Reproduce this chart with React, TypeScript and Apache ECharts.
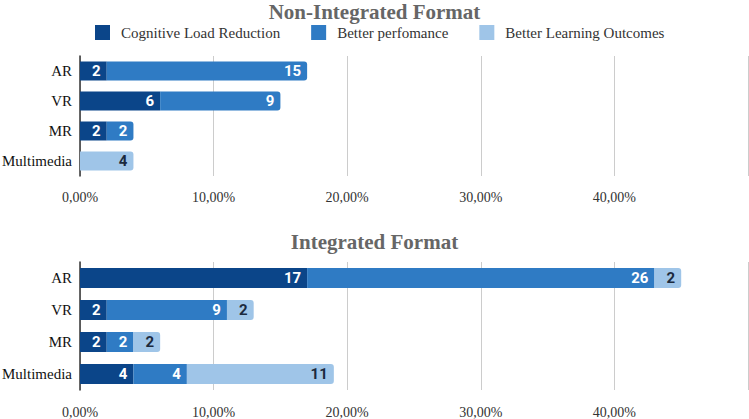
import React, { useEffect, useRef } from "react";
import * as echarts from "echarts";

const categories = ["AR", "VR", "MR", "Multimedia"];
const seriesNames = ["Cognitive Load Reduction", "Better perfomance", "Better Learning Outcomes"];
const colors = ["#0b4589", "#2f7bc4", "#9fc5e8"];
const labelColors = ["#ffffff", "#ffffff", "#1b2a3e"];

// Non-Integrated Format (counts, plotted as %)
const nonIntCLR = [2, 6, 2, 0];
const nonIntBP = [15, 9, 2, 0];
const nonIntBLO = [0, 0, 0, 4];

// Integrated Format
const intCLR = [17, 2, 2, 4];
const intBP = [26, 9, 2, 4];
const intBLO = [2, 2, 2, 11];

const xTicks = [0, 10, 20, 30, 40, 50];

const serif = "'Liberation Serif', 'DejaVu Serif', serif";

function buildSeries(groups: number[][], axisIndex: number) {
  return groups.map((vals, si) => ({
    name: seriesNames[si],
    type: "bar",
    stack: "s" + axisIndex,
    xAxisIndex: axisIndex,
    yAxisIndex: axisIndex,
    barWidth: axisIndex === 0 ? 19 : 20,
    color: colors[si],
    itemStyle: { color: colors[si] },
    label: {
      show: true,
      position: "insideRight",
      distance: 6,
      color: labelColors[si],
      fontFamily: "Roboto",
      fontWeight: "bold",
      fontSize: 15,
      formatter: (p: any) => (p.value > 0 ? String(p.value) : ""),
    },
    data: vals.map((v, ci) => {
      let last = -1;
      groups.forEach((g, k) => {
        if (g[ci] > 0) last = k;
      });
      return {
        value: v,
        itemStyle: { borderRadius: last === si ? [0, 3, 3, 0] : 0 },
      };
    }),
  }));
}

export default function App() {
  const ref = useRef<HTMLDivElement>(null);
  useEffect(() => {
    const chart = echarts.init(ref.current!, undefined, { renderer: "svg" });
    const xAxisCommon = {
      type: "value",
      min: xTicks[0],
      max: xTicks[xTicks.length - 1],
      interval: 10,
      axisLine: { show: false },
      axisTick: { show: false },
      splitLine: { lineStyle: { color: "#cccccc", width: 1 } },
      axisLabel: {
        showMaxLabel: false,
        color: "#333",
        fontFamily: serif,
        fontSize: 14,
        formatter: (v: number) => v.toFixed(2).replace(".", ",") + "%",
      },
    };
    const yAxisCommon = {
      type: "category",
      data: categories,
      inverse: true,
      axisTick: { show: false },
      axisLine: { lineStyle: { color: "#333", width: 1.5 } },
      axisLabel: { color: "#111", fontFamily: serif, fontSize: 15, margin: 8 },
    };
    chart.setOption({
      animation: false,
      backgroundColor: "#ffffff",
      title: [
        {
          text: "Non-Integrated Format",
          left: "center",
          top: -4,
          textStyle: { fontFamily: serif, fontWeight: "bold", fontSize: 21, color: "#666" },
        },
        {
          text: "Integrated Format",
          left: "center",
          top: 226,
          textStyle: { fontFamily: serif, fontWeight: "bold", fontSize: 21, color: "#666" },
        },
      ],
      legend: {
        data: seriesNames,
        left: 95,
        top: 25,
        padding: 0,
        icon: "rect",
        itemWidth: 15,
        itemHeight: 15,
        itemGap: 31,
        textStyle: { fontFamily: serif, fontSize: 15, color: "#333", padding: [0, 0, 0, 6] },
      },
      grid: [
        { left: 80, right: 1, top: 56, height: 120, outerBoundsMode: "none", containLabel: false },
        { left: 80, right: 1, top: 262, height: 128, outerBoundsMode: "none", containLabel: false },
      ],
      xAxis: [
        { ...xAxisCommon, gridIndex: 0, axisLabel: { ...xAxisCommon.axisLabel, margin: 14 } },
        { ...xAxisCommon, gridIndex: 1, axisLabel: { ...xAxisCommon.axisLabel, margin: 15 } },
      ],
      yAxis: [
        { ...yAxisCommon, gridIndex: 0 },
        { ...yAxisCommon, gridIndex: 1 },
      ],
      series: [
        ...buildSeries([nonIntCLR, nonIntBP, nonIntBLO], 0),
        ...buildSeries([intCLR, intBP, intBLO], 1),
      ],
    });
    return () => chart.dispose();
  }, []);
  return (
    <div
      ref={ref}
      style={{ position: "fixed", left: 0, top: 0, width: 749, height: 419 }}
    />
  );
}
